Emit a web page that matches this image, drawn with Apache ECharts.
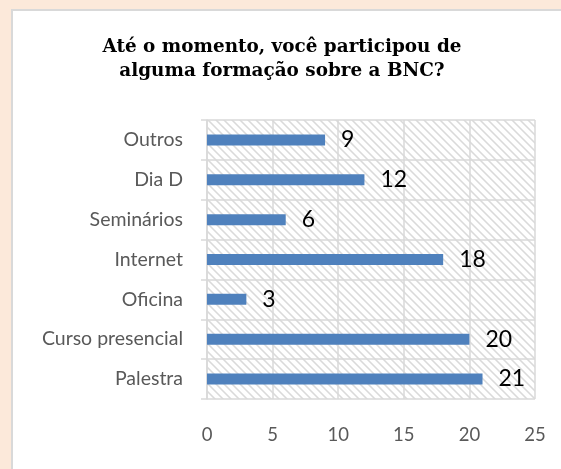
<!DOCTYPE html>
<html><head><meta charset="utf-8">
<script src="https://cdn.jsdelivr.net/npm/echarts@6/dist/echarts.min.js"></script>
<style>html,body{margin:0;padding:0;background:#fce9da;}#c{width:561px;height:469px;}</style>
</head><body><div id="c"></div>
<script>
var titleLines = ['Até o momento, você participou de', 'alguma formação sobre a BNC?'];
var categories = ['Palestra', 'Curso presencial', 'Oficina', 'Internet', 'Seminários', 'Dia D', 'Outros'];
var values = [21, 20, 3, 18, 6, 12, 9];
var xTicks = [0, 5, 10, 15, 20, 25];

var pc = document.createElement('canvas');
pc.width = 8; pc.height = 8;
var ctx = pc.getContext('2d');
ctx.fillStyle = '#ffffff'; ctx.fillRect(0,0,8,8);
for (var y=0;y<8;y++){ for (var x=0;x<8;x++){ var d=((x-y)%8+8)%8;
  if(d===0){ctx.fillStyle='#dadada';ctx.fillRect(x,y,1,1);}
  else if(d===1||d===7){ctx.fillStyle='#e9e9e9';ctx.fillRect(x,y,1,1);} } }

var chart = echarts.init(document.getElementById('c'), null, {renderer:'canvas'});
chart.setOption({
  backgroundColor: '#fce9da',
  animation: false,
  graphic: [
    {type:'rect', shape:{x:12, y:10, width:560, height:470}, style:{fill:'#ffffff', stroke:'#d9d9d9', lineWidth:2}, z:-10},
    {type:'text', x:282, y:35, style:{text: titleLines.join('\n'), fontFamily:'DejaVu Serif', fontWeight:'bold', fontSize:18.4, lineHeight:24, fill:'#000', align:'center'}}
  ],
  grid: {left:207, right:26, top:120, bottom:70, show:true, borderWidth:0, backgroundColor:{image:pc, repeat:'repeat'}},
  xAxis: {
    type:'value', min:xTicks[0], max:xTicks[xTicks.length-1], interval:5,
    axisLine:{show:false}, axisTick:{show:false},
    splitLine:{show:true, lineStyle:{color:'#d9d9d9', width:1.5}},
    axisLabel:{margin:27, color:'#595959', fontFamily:'Lato', fontSize:18.5}
  },
  yAxis: {
    type:'category', data:categories,
    axisLine:{show:true, lineStyle:{color:'#d9d9d9', width:1.5}},
    axisTick:{show:true, length:6, lineStyle:{color:'#d9d9d9', width:1.5}},
    splitLine:{show:true, lineStyle:{color:'#d9d9d9', width:1.5}},
    axisLabel:{margin:24, color:'#595959', fontFamily:'Lato', fontSize:19.5}
  },
  series: [{
    type:'bar', data:values, barWidth:11,
    itemStyle:{color:'#4f81bd'},
    label:{show:true, position:'right', distance:16, color:'#000', fontFamily:'Lato', fontSize:23}
  }]
});
</script></body></html>
